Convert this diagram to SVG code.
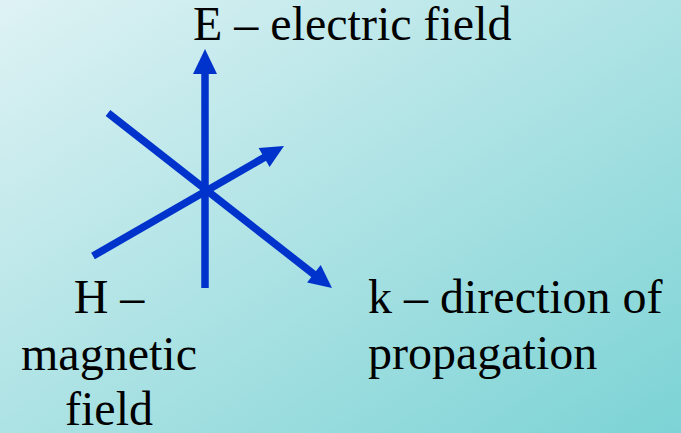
<svg xmlns="http://www.w3.org/2000/svg" width="681" height="433" viewBox="0 0 681 433">
  <defs>
    <linearGradient id="bg" x1="0" y1="0" x2="1" y2="1">
      <stop offset="0" stop-color="#def2f4"/>
      <stop offset="1" stop-color="#7cd3d5"/>
    </linearGradient>
  </defs>
  <style>
    .lbl { font-family: "Liberation Serif", "Times New Roman", serif; font-size: 48px; fill: #000; }
    .ax { stroke: #0033cc; stroke-width: 7.5; fill: none; }
    .head { fill: #0033cc; }
  </style>
  <rect x="0" y="0" width="681" height="433" fill="url(#bg)"/>
  <g id="connectors">
    <g id="axis-E">
      <line class="ax" x1="205" y1="288" x2="205" y2="72"/>
      <polygon class="head" points="205,49 193,74 217,74"/>
    </g>
    <g id="axis-k">
      <line class="ax" x1="108" y1="113" x2="316" y2="276"/>
      <polygon class="head" points="332,288 307.1,282.5 320.7,265.1"/>
    </g>
    <g id="axis-H">
      <line class="ax" x1="93" y1="256" x2="266" y2="156.5"/>
      <polygon class="head" points="284,146 269.6,167 258.6,148"/>
    </g>
  </g>
  <g id="label-E">
    <text class="lbl" x="193" y="40">E – electric field</text>
  </g>
  <g id="label-H">
    <text class="lbl" x="109" y="313" text-anchor="middle">H –</text>
    <text class="lbl" x="109" y="370" text-anchor="middle">magnetic</text>
    <text class="lbl" x="109" y="425" text-anchor="middle">field</text>
  </g>
  <g id="label-k">
    <text class="lbl" x="368" y="313">k – direction of</text>
    <text class="lbl" x="368" y="369">propagation</text>
  </g>
</svg>
